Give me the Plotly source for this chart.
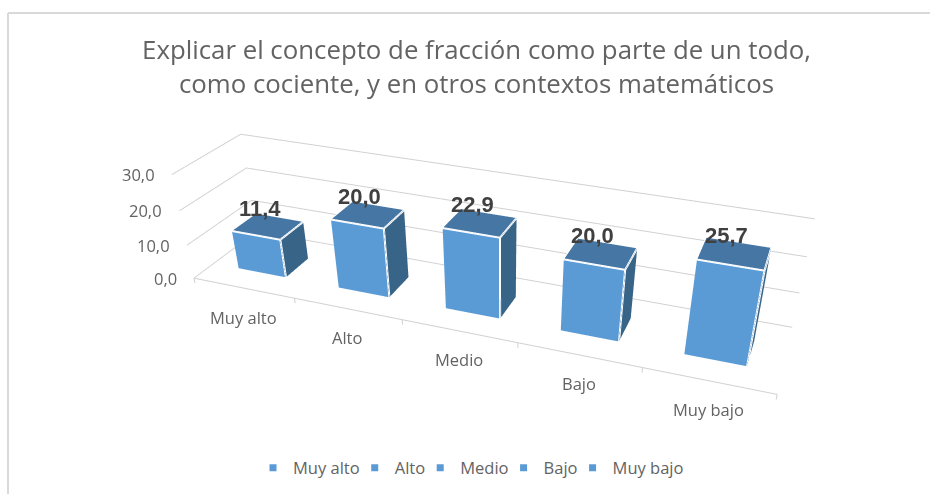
import plotly.graph_objects as go

categories = ["Muy alto", "Alto", "Medio", "Bajo", "Muy bajo"]
values = [11.4, 20.0, 22.9, 20.0, 25.7]
z_ticks = [0, 10, 20, 30]

TITLE = "Explicar el concepto de fracción como parte de un todo,<br>como cociente, y en otros contextos matemáticos"

BAR_FRONT = "#5B9BD5"
BAR_TOP = "#4676A4"
BAR_SIDE = "#386488"
GRID = "#D0D0D0"
TEXT = "#636363"

# The figure is bigger than the window: plotly's field of view is tied to the
# scene height, and the reference has a flatter perspective than 494px allows.
W, H = 1030, 774
BAR_HALF = 0.2404          # half bar width, in category units
DEPTH_FRONT, DEPTH_BACK = 0.2961, 0.6779
TICK_DROP = -1.5           # scene clips to its ranges, so the z range starts here


def comma(v):
    return f"{v:.1f}".replace(".", ",")


traces = []

# ── Bars ───────────────────────────────────────────────────────────────
for i, v in enumerate(values):
    left, right = i + 0.5 - BAR_HALF, i + 0.5 + BAR_HALF
    traces.append(go.Mesh3d(
        x=[left, right, right, left] * 2,
        y=[DEPTH_FRONT, DEPTH_FRONT, DEPTH_BACK, DEPTH_BACK] * 2,
        z=[0, 0, 0, 0, v, v, v, v],
        i=[0, 0, 4, 4, 1, 1],
        j=[1, 5, 5, 6, 2, 6],
        k=[5, 4, 6, 7, 6, 5],
        facecolor=[BAR_FRONT, BAR_FRONT, BAR_TOP, BAR_TOP, BAR_SIDE, BAR_SIDE],
        flatshading=True,
        lighting=dict(ambient=1, diffuse=0, specular=0, fresnel=0),
        hoverinfo="skip",
        showlegend=False,
    ))
    # white edges between the visible faces
    traces.append(go.Scatter3d(
        x=[left, right, right, None, right, right, None, left, left, right, right],
        y=[DEPTH_FRONT, DEPTH_FRONT, DEPTH_BACK, None, DEPTH_FRONT, DEPTH_FRONT, None,
           DEPTH_FRONT, DEPTH_BACK, DEPTH_BACK, DEPTH_BACK],
        z=[v, v, v, None, v, 0, None, v, v, v, v],
        mode="lines",
        line=dict(color="white", width=4),
        hoverinfo="skip",
        showlegend=False,
    ))

# ── Category axis line, ticks on the category boundaries ───────────────
axis_x, axis_y, axis_z = [0, len(categories), None], [0, 0, None], [0, 0, None]
for t in range(len(categories) + 1):
    axis_x += [t, t, None]
    axis_y += [0, 0, None]
    axis_z += [0, TICK_DROP, None]
traces.append(go.Scatter3d(
    x=axis_x, y=axis_y, z=axis_z,
    mode="lines",
    line=dict(color=GRID, width=2),
    hoverinfo="skip",
    showlegend=False,
))

# ── Legend entries ─────────────────────────────────────────────────────
for name in categories:
    traces.append(go.Scatter3d(
        x=[None], y=[None], z=[None],
        mode="markers",
        name=name,
        marker=dict(color=BAR_FRONT, size=7, symbol="square"),
    ))

# ── Text anchored in the scene ─────────────────────────────────────────
labels = []
for i, name in enumerate(categories):
    labels.append(dict(
        x=i + 0.5, y=0, z=0, text=name, showarrow=False, yshift=-29,
        font=dict(family="Open Sans", size=16.5, color=TEXT),
    ))
for i, v in enumerate(values):
    labels.append(dict(
        x=i + 0.5, y=(DEPTH_FRONT + DEPTH_BACK) / 2, z=v,
        text=f"<b>{comma(v)}</b>", showarrow=False, xshift=-8, yshift=18,
        font=dict(family="Liberation Sans", size=22, color="#404040"),
    ))
for t in z_ticks:
    labels.append(dict(
        x=0, y=0, z=t, text=comma(t), showarrow=False, xanchor="right", xshift=-15,
        font=dict(family="Open Sans", size=16.5, color=TEXT),
    ))

bare = dict(
    showbackground=False, showgrid=False, zeroline=False, showline=False,
    showticklabels=False, ticks="", title=dict(text=""), showspikes=False,
)

fig = go.Figure(traces)
fig.update_layout(
    width=W,
    height=H,
    margin=dict(l=0, r=0, t=0, b=0),
    paper_bgcolor="white",
    title=dict(
        text=TITLE,
        x=476.5 / W,
        xanchor="center",
        y=1 - 59.3 / H,
        yanchor="bottom",
        font=dict(family="Open Sans", size=25.8, color=TEXT),
    ),
    legend=dict(
        orientation="h",
        x=476 / W,
        xanchor="center",
        y=1 - 468 / H,
        yanchor="middle",
        indentation=-10,
        font=dict(family="Open Sans", size=16.5, color=TEXT),
    ),
    scene=dict(
        domain=dict(x=[0, 1], y=[0, 1]),
        xaxis=dict(bare, range=[0, len(categories)]),
        yaxis=dict(bare, range=[0, 1]),
        zaxis=dict(bare, range=[TICK_DROP, 30], showgrid=True, gridcolor=GRID, gridwidth=2, tickvals=z_ticks),
        aspectmode="manual",
        aspectratio=dict(x=1, y=0.1989, z=0.1999),
        camera=dict(
            eye=dict(x=0.5087, y=-1.2695, z=0.6966),
            center=dict(x=0.0928, y=-0.0909, z=-0.1828),
            up=dict(x=0.0095, y=-0.0498, z=1),
            projection=dict(type="perspective"),
        ),
        annotations=labels,
    ),
    shapes=[
        dict(type="line", xref="paper", yref="paper", x0=8 / W, x1=1, y0=1 - 13 / H, y1=1 - 13 / H,
             line=dict(color="#D9D9D9", width=2)),
        dict(type="line", xref="paper", yref="paper", x0=8 / W, x1=8 / W, y0=0, y1=1 - 13 / H,
             line=dict(color="#D9D9D9", width=2)),
    ],
)

fig.write_html(
    "out.html",
    config=dict(displayModeBar=False),
    post_script="document.body.style.margin='0';document.documentElement.style.overflow='hidden';",
)
